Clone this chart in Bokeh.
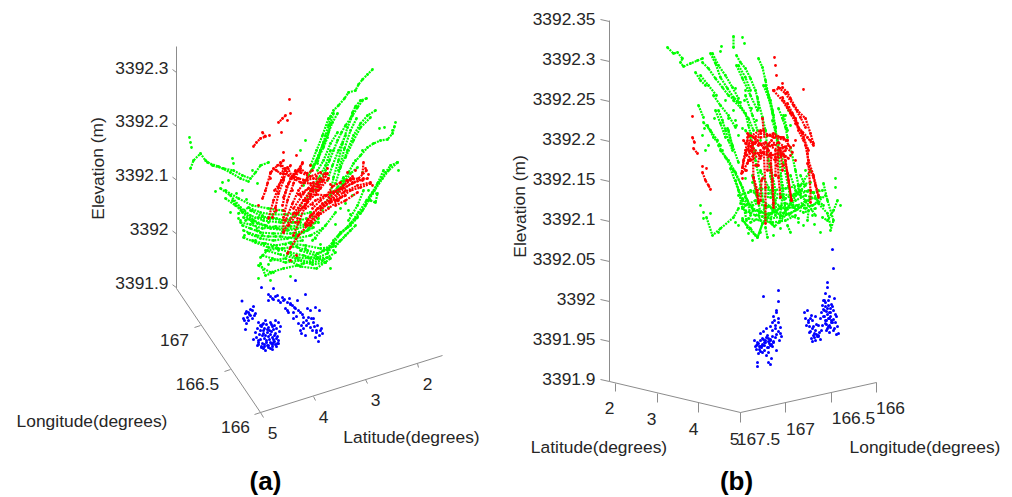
from bokeh.plotting import figure
from bokeh.models import Range1d
from bokeh.core.properties import value
from bokeh.embed import file_html
from bokeh.resources import INLINE

# Traces of the projected 3-D views (horizontal, vertical position on the view)
a_green = [
 [(372,69),(367,74),(362,79),(358,84),(355,90),(348,92),(344,98),(338,105),(333,110),(330,116),(328,125),(325,135),(322,145),(318,155),(313,165),(308,175),(303,185)],
 [(337,113),(332,122),(328,132),(323,142),(320,150),(316,160),(311,170)],
 [(333,113),(330,123),(327,137),(323,147),(318,157),(313,167),(308,175)],
 [(337,132),(330,143),(323,160),(317,170)],
 [(325,140),(320,150),(317,163)],
 [(362,100),(357,107),(352,115),(347,127),(342,143),(338,160),(333,177),(330,193)],
 [(375,110),(367,115),(360,123),(353,135),(347,150),(340,167),(335,183)],
 [(370,117),(360,127),(353,140),(345,157)],
 [(357,167),(350,173),(343,183),(337,192)],
 [(366,98),(360,100),(355,106),(352,112),(350,118),(345,125),(341,132),(337,140),(333,150),(329,160),(325,170),(320,180),(315,190)],
 [(394,126),(392,133),(387,139),(380,140),(373,143),(367,147),(360,155),(353,163),(348,172),(343,180),(337,193)],
 [(397,162),(390,165),(385,172),(378,182),(372,192),(366,200),(358,212),(350,223),(340,233),(333,243),(327,253),(317,257)],
 [(397,162),(388,170),(382,178),(374,190),(368,200),(362,210),(355,218),(347,227),(338,235)],
 [(383,170),(377,183),(370,195),(365,205),(360,213)],
 [(370,200),(375,202),(377,193),(372,193)],
 [(357,217),(350,225),(340,232),(333,240),(327,250)],
 [(332,243),(323,250),(317,253),(307,250),(297,247)],
 [(307,257),(317,257),(325,262)],
 [(287,253),(297,257),(310,258)],
 [(190,168),(193,160),(200,153),(205,160),(212,165),(223,168),(233,170),(242,175),(250,178),(255,172),(260,165),(268,162)],
 [(207,162),(218,166),(230,172),(240,178),(248,181)],
 [(220,188),(230,195),(240,207),(250,215),(263,220),(280,222),(300,222)],
 [(225,198),(235,205),(245,213),(257,223),(270,228),(287,230),(310,225)],
 [(242,225),(250,228),(260,232),(273,233),(290,233),(307,230),(318,218)],
 [(243,217),(253,220),(265,225),(277,228),(297,228)],
 [(248,233),(260,238),(273,240),(287,238),(303,232),(313,227)],
 [(240,222),(250,224),(262,228),(275,226),(290,226),(305,224),(318,222)],
 [(245,220),(258,217),(270,218),(285,220),(295,215),(310,212)],
 [(243,230),(256,235),(268,236),(280,236),(295,238),(310,235),(322,228)],
 [(238,213),(248,207),(260,212),(272,214),(285,214),(298,212)],
 [(225,190),(238,198),(252,205),(268,208),(282,210)],
 [(252,240),(263,243),(276,245),(290,242),(302,240)],
 [(260,257),(267,250),(277,248),(290,252),(303,255),(317,258),(327,257)],
 [(265,250),(280,254),(295,258),(310,262),(322,260),(335,252)],
 [(262,255),(272,258),(285,262),(298,260),(312,264),(325,262)],
 [(258,265),(270,272),(283,268),(297,265),(303,263),(317,258)],
 [(260,263),(265,275),(273,272)],
 [(343,177),(337,187),(330,195),(325,202)],
 [(330,150),(325,165),(318,178),(310,190),(305,200)],
 [(312,240),(325,225),(335,212)],
 [(290,243),(305,245),(320,248),(335,246),(345,235),(355,225)],
 [(328,118),(322,135),(316,150),(310,165)],
 [(345,135),(338,150),(332,165),(327,180)],
 [(356,118),(350,130),(344,148),(338,170)],
 [(232,200),(242,212),(252,222),(262,235)],
 [(250,210),(262,216),(276,218),(292,222),(306,218)],
 [(243,237),(255,242),(268,247),(282,248),(296,246)],
 [(300,250),(315,255),(328,248),(340,240),(350,230)],
 [(270,260),(285,258),(300,266),(316,268),(330,258)],
 [(363,190),(357,205),(348,220)],
]
a_green_dots_x = [189,190,191,232,233,252,257,242,228,222,215,300,310,355,362,379,384,392,395,398,300,305,352,345,348,265,272,285,258,270,290,325,330,362,368,230,240,255,275,295,315,333,236,246,238,252,262,275,290,300,312,322,244,256,268,282,296,308,328,340,350,268,278,292,305,320,335]
a_green_dots_y = [137,142,147,158,163,170,183,190,180,182,191,205,212,160,150,128,127,130,122,170,150,140,195,203,210,243,246,244,278,280,276,262,268,172,190,212,220,240,236,236,238,250,193,199,218,210,215,212,218,219,216,210,235,230,222,231,234,228,207,208,214,264,250,246,248,244,224]

a_red = [
 [(283,160),(277,165),(270,172),(267,183),(265,190),(262,198)],
 [(317,183),(303,200),(293,213),(283,232)],
 [(283,173),(278,187),(273,200),(268,218)],
 [(302,163),(295,173),(288,183),(283,197)],
 [(370,182),(357,185),(343,192),(330,200),(317,213),(305,225)],
 [(367,178),(352,182),(337,193),(323,205)],
 [(318,213),(307,225),(298,235),(290,247),(287,253)],
 [(327,173),(317,190),(307,202),(297,213),(288,225)],
 [(313,182),(303,193),(293,208)],
 [(287,167),(292,177),(300,182),(310,183),(320,188)],
 [(280,165),(288,175),(298,178),(307,180)],
 [(262,132),(265,136),(260,138),(256,142),(253,146)],
 [(285,115),(282,118),(278,122)],
 [(363,162),(362,173)],
 [(350,178),(340,188),(330,192),(320,200),(312,208)],
 [(280,162),(285,170),(283,180),(278,193),(275,207),(272,217)],
 [(295,170),(290,178),(285,192),(282,205)],
 [(302,162),(298,170),(293,183),(287,200),(283,217),(283,232)],
 [(307,177),(298,190),(292,203),(285,220)],
 [(325,173),(318,185),(310,195),(302,207),(295,213)],
 [(320,178),(312,187),(303,200),(298,208)],
 [(353,178),(343,185),(333,193),(325,202),(317,208),(310,215),(305,223)],
 [(370,183),(360,187),(350,190),(340,197),(330,202),(320,208)],
 [(363,178),(352,183),(342,188),(333,192)],
 [(307,220),(313,213),(322,203)],
 [(285,168),(280,173),(273,168),(270,173)],
 [(303,180),(313,178),(323,180),(317,182)],
 [(293,175),(300,168),(306,173),(312,170)],
 [(345,195),(335,200),(325,195),(315,200),(305,208)],
 [(300,172),(310,176),(320,172),(328,178),(318,190),(308,188),(298,194)],
 [(340,182),(332,186),(326,195),(316,194),(306,200)],
 [(290,165),(283,178),(274,190)],
 [(312,190),(305,205),(298,222),(293,235)],
 [(338,200),(328,208),(318,215),(310,225)],
 [(357,192),(345,200),(335,205)],
 [(366,170),(358,178),(346,180)],
]
a_red_dots_x = [289,290,287,281,269,283,296,258,347,362,355,365,372,292,276,311,320,335,345,300,310,327,304,295,270,276,286,300,316,330,352,368,283,297,312,290,296]
a_red_dots_y = [99,113,120,132,135,152,155,205,172,180,170,168,185,190,210,222,213,200,190,170,165,168,200,222,178,170,186,195,176,184,176,174,210,218,204,260,255]

a_blue_x = [241.5,245,248,252,253,250,247,243,248,252,255,246,245,265,258,262,270,275,278,257,260,264,268,272,276,280,255,259,263,267,271,275,279,256,260,264,268,272,276,258,262,266,270,274,278,253,261,264,268,272,276,257,273,277,268,275,282,287,292,295,300,303,308,313,317,320,268,272,280,285,288,293,298,303,308,312,315,318,293,297,305,307,310,315,319,300,301,305,310,316,321,322,303,290,261,273,295,
 261,263,267,269,273,262,265,270,274,277,258,266,269,273,278,260,263,266,271,274,258,261,268,272,275,263,270,265,272,271,264,267,250,246,249,254,244,278,284,290,294,298,302,306,311,314,316,287,296,301,306,313,319,277,283,289,270,273]
a_blue_y = [300.5,313,312,310,306,315,317,318,320,318,313,323,329,320,322,324,322,320,322,328,330,328,327,326,328,326,332,334,333,332,331,333,331,337,339,338,336,337,338,344,343,342,342,341,343,339,347,346,347,346,346,345,342,343,294,296,297,302,305,308,312,317,317,322,325,330,300,298,302,308,312,318,323,328,323,330,337,341,312,300,294,308,310,307,310,330,333,335,327,332,328,333,322,303,287,288,280,
 326,330,329,330,329,335,335,334,335,336,340,340,339,339,340,325,323,324,324,325,342,346,345,344,344,348,348,350,349,343,344,345,309,311,314,315,320,300,299,304,307,310,314,320,318,326,330,310,316,325,325,318,335,295,300,298,296,299]

b_green = [
 [(667,47),(673,53),(677,52),(682,58),(680,62),(683,66),(690,63),(697,60),(702,58)],
 [(695,72),(700,80),(705,85)],
 [(702,62),(708,68),(715,78),(722,87),(728,95),(738,102),(745,113),(748,125),(750,133)],
 [(712,53),(718,65),(725,75),(732,87),(738,98)],
 [(710,53),(715,63),(720,77),(727,88),(733,97),(740,102)],
 [(736,65),(742,78),(750,95),(757,110)],
 [(738,65),(745,77),(750,90)],
 [(736,55),(740,62),(745,68),(750,78),(755,90),(758,102),(762,117),(765,130)],
 [(758,58),(762,67),(765,80),(768,95),(772,110),(775,127)],
 [(763,85),(768,97),(772,113),(775,128)],
 [(765,85),(770,100),(773,115)],
 [(778,108),(782,118),(785,127),(787,137)],
 [(757,97),(758,108)],
 [(733,36),(733,47)],
 [(698,105),(703,117)],
 [(703,122),(710,130),(717,140)],
 [(707,125),(713,137),(720,145)],
 [(715,110),(720,123),(725,137)],
 [(718,110),(722,120),(725,130),(728,140),(732,150)],
 [(728,130),(732,147)],
 [(733,100),(740,107),(748,118),(753,130)],
 [(745,130),(750,137)],
 [(718,145),(725,157),(733,170),(740,183),(745,197),(753,210)],
 [(720,150),(728,160),(735,172),(742,187),(747,200),(750,215)],
 [(727,128),(732,145),(738,162)],
 [(772,120),(777,140),(783,163),(788,187),(790,200)],
 [(760,170),(768,187),(775,200)],
 [(800,175),(805,185),(797,193),(790,203),(783,213)],
 [(813,192),(818,203),(827,213),(830,225)],
 [(808,210),(807,220)],
 [(706,217),(712,235),(720,228),(733,217),(738,208)],
 [(757,237),(762,223),(770,213),(780,207)],
 [(742,218),(747,227),(755,235)],
 [(765,227),(767,237)],
 [(787,225),(790,232)],
 [(742,220),(750,228),(757,237),(762,223),(770,213)],
 [(745,205),(755,200),(765,207),(775,203),(785,208),(795,200),(805,195),(815,198),(823,205)],
 [(742,198),(752,208),(764,213),(776,212),(790,213),(802,205),(812,205),(825,195)],
 [(750,190),(758,195),(770,197),(785,198),(800,190),(812,192),(822,190)],
 [(758,215),(770,218),(782,216),(795,210),(808,200)],
 [(740,203),(752,205),(762,200),(772,208),(785,203),(797,205),(810,198),(820,197)],
 [(745,212),(757,210),(768,214),(780,208),(793,207),(803,212),(815,208)],
 [(755,193),(768,193),(780,194),(795,195),(808,190)],
 [(748,218),(760,220),(772,222),(785,220),(795,215)],
 [(823,183),(827,200),(833,220),(830,230)],
 [(837,200),(833,210),(827,220),(822,217)],
 [(750,133),(755,160),(760,185),(765,215)],
 [(775,127),(778,155),(782,185),(785,210)],
 [(765,130),(768,160),(772,190),(775,215)],
 [(790,147),(795,170),(800,195)],
 [(810,170),(800,185),(790,200)],
 [(738,195),(748,192),(760,188),(772,190),(785,188),(798,185),(810,182)],
 [(742,208),(755,215),(768,206),(780,215),(792,205),(805,208),(818,202)],
 [(750,222),(762,216),(774,226),(786,214),(798,218)],
 [(790,175),(795,190),(805,200),(815,215)],
 [(752,175),(756,195),(760,212)],
 [(780,175),(782,195),(779,222)],
 [(770,165),(775,190),(770,222)],
 [(735,180),(742,200),(746,220)],
 [(730,168),(738,190),(742,208)],
 [(700,75),(708,85),(716,95)],
 [(713,95),(720,105),(728,115),(735,127)],
 [(745,95),(752,115),(757,130)],
 [(783,115),(787,130)],
]
b_green_dots_x = [721,720,742,744,704,702,708,705,703,710,738,735,748,744,751,756,785,790,788,835,835,840,820,814,725,745,760,773,780,803,760,733,736,752,718,700,703,735,742,755,728,714,722,738,760,770,745,752,772,798,812,805,818,735]
b_green_dots_y = [46,51,37,43,128,135,145,150,218,213,225,222,233,100,108,120,115,125,110,178,187,205,232,224,100,90,140,235,228,225,232,110,125,240,232,205,212,120,128,150,118,118,150,135,172,176,178,182,224,222,215,170,190,88]

b_red = [
 [(748,135),(760,137),(770,135),(783,137),(790,147)],
 [(747,133),(753,137),(760,133),(767,135),(773,133),(780,137),(787,140)],
 [(745,143),(752,142),(758,145),(765,142),(772,145),(778,142),(785,147),(792,152)],
 [(748,150),(755,153),(763,152),(770,155),(780,153)],
 [(747,137),(760,130),(773,137),(787,140)],
 [(762,118),(763,130)],
 [(747,140),(743,160),(741,173)],
 [(742,167),(745,153),(750,140)],
 [(747,163),(750,150),(755,138)],
 [(752,143),(753,177),(758,202)],
 [(753,177),(757,190),(758,203)],
 [(763,147),(765,187),(765,223)],
 [(770,153),(772,187),(773,207)],
 [(770,163),(772,180),(773,203)],
 [(777,153),(778,177),(780,197)],
 [(785,160),(788,180),(791,200)],
 [(782,147),(787,173),(791,200)],
 [(773,90),(782,87),(787,92),(790,98),(797,110),(805,118),(810,133),(813,143)],
 [(773,90),(782,100),(790,113),(798,127),(807,137),(813,145)],
 [(782,97),(787,107),(795,118),(798,130),(803,140)],
 [(778,87),(785,93),(793,105),(800,117),(805,127)],
 [(787,103),(792,113),(797,123)],
 [(795,123),(802,133),(807,148)],
 [(802,132),(805,145),(808,160),(813,175),(818,195)],
 [(807,163),(813,177),(818,197)],
 [(807,153),(810,190),(810,202)],
 [(702,172),(705,180),(708,185),(710,189)],
 [(692,137),(694,142)],
 [(693,148),(697,153)],
 [(745,150),(755,142),(768,145),(778,150),(788,158)],
 [(750,160),(762,152),(775,160),(785,150)],
 [(743,140),(750,146),(757,140),(764,148),(771,140),(779,148),(788,145)],
 [(746,155),(753,148),(760,156),(768,150),(775,157),(783,155)],
 [(742,172),(748,160),(753,155)],
 [(757,165),(760,150)],
 [(767,170),(767,150)],
 [(775,175),(775,150)],
 [(782,170),(780,150)],
 [(760,200),(761,180)],
]
b_red_dots_x = [774,775,776,782,803,692,702,706,745,755,760,770,775,783,790,795,810,808,815,795,765,749,758,767,776,785,793,742,746,762]
b_red_dots_y = [57,65,75,83,89,116,166,168,170,165,158,170,175,165,155,160,140,150,185,140,205,160,165,148,165,156,145,178,170,178]

b_blue_x = [832,833,827,827,825,823,829,822,825,828,831,834,821,824,827,830,833,836,820,823,826,829,832,835,822,825,828,831,834,837,826,829,833,836,838,804,807,810,808,812,815,809,812,815,818,813,816,819,821,811,814,817,809,815,818,812,762,758,760,764,767,770,756,759,762,765,768,771,755,760,764,768,758,762,772,775,778,770,773,776,779,768,772,776,774,778,778,763,778,776,773,770,776,772,757,757,770,771,768,766,780,
 825,828,830,823,826,829,832,824,827,830,833,825,828,831,826,829,830,827,824,835,805,808,811,813,816,806,810,814,818,820,757,760,763,766,769,759,762,765,768,754,757,761,764,767,772,775,770,773,760,763,766,756,775,778,780,781]
b_blue_y = [249,268,282,287,293,300,296,305,302,300,304,298,312,310,308,312,310,316,318,316,320,318,322,314,325,323,326,322,328,326,330,332,330,334,333,312,310,318,322,320,316,326,328,330,325,335,334,332,330,338,337,336,332,340,335,341,338,343,346,342,335,340,345,349,345,340,347,344,346,351,350,352,353,352,330,325,322,345,342,350,340,338,336,334,320,318,290,296,301,310,316,326,312,322,362,366,364,358,362,355,333,
 306,305,308,309,311,312,306,316,314,316,319,320,318,320,324,325,327,328,300,322,318,320,315,326,324,325,331,333,336,339,342,340,339,337,343,346,344,342,341,340,344,347,345,347,346,337,339,341,333,331,328,349,328,331,327,336]

a_elev_ticks = ["3392.3","3392.2","3392.1","3392","3391.9"]
b_elev_ticks = ["3392.35","3392.3","3392.25","3392.2","3392.15","3392.1","3392.05","3392","3391.95","3391.9"]
lat_ticks = ["5","4","3","2"]
a_lon_ticks = ["167","166.5","166"]
b_lon_ticks = ["167.5","167","166.5","166"]

GREEN, RED, BLUE = "#00ff00", "#ff0000", "#0000ff"
AX = "#8c8c8c"
FONT = value("Liberation Sans")
TC = "#262626"

p = figure(width=1012, height=497, x_range=Range1d(0, 1012), y_range=Range1d(497, 0),
           x_axis_type=None, y_axis_type=None, toolbar_location=None,
           output_backend="svg", min_border=0, outline_line_color=None)
p.grid.visible = False

def strokes(lst, color):
    xs = [[q[0] for q in s] for s in lst]
    ys = [[q[1] for q in s] for s in lst]
    p.multi_line(xs, ys, line_color=color, line_width=2.2, line_dash="2 1")
    p.scatter(sum(xs, []), sum(ys, []), size=2.8, color=color, line_width=0)

def dots(x, y, color, size=2.8):
    p.scatter(x, y, size=size, color=color, line_width=0)

def label(x, y, t, align="center", angle=0, size="17.4px", style="normal", color=TC):
    p.text([x], [y], text=[t], text_font=FONT, text_font_size=size, text_align=align,
           text_baseline="middle", angle=angle, text_color=color, text_font_style=style)

def seg(x0, y0, x1, y1):
    p.segment([x0], [y0], [x1], [y1], line_color=AX, line_width=1)

strokes(a_green, GREEN); dots(a_green_dots_x, a_green_dots_y, GREEN)
strokes(a_red, RED); dots(a_red_dots_x, a_red_dots_y, RED)
dots(a_blue_x, a_blue_y, BLUE, 3)
strokes(b_green, GREEN); dots(b_green_dots_x, b_green_dots_y, GREEN)
strokes(b_red, RED); dots(b_red_dots_x, b_red_dots_y, RED)
dots(b_blue_x, b_blue_y, BLUE, 3)

# panel a axes
seg(176, 46, 176, 288); seg(176, 288, 260, 412); seg(260, 412, 442, 355)
for i, t in enumerate(a_elev_ticks):
    y = 72 + i * 53.8
    seg(172, y - 3, 176, y)
    label(168, y - 5, t, "right")
for (x0, y0, x1, y1) in [(200, 325, 194, 327), (230, 369, 224, 371), (260, 412, 254, 414)]:
    seg(x0, y0, x1, y1)
for (x0, y0, x1, y1) in [(260, 412, 263, 417), (313, 396, 315, 400), (365, 379, 367, 383), (417, 363, 418, 367)]:
    seg(x0, y0, x1, y1)
for (x, y), t in zip([(272, 432), (323, 416), (375, 399), (427, 383)], lat_ticks):
    label(x, y, t)
for (x, y), t in zip([(174, 339), (197, 383), (235, 426)], a_lon_ticks):
    label(x, y, t)
label(97, 168, "Elevation (m)", angle=1.5708)
label(91.5, 420, "Longitude(degrees)")
label(411, 436, "Latitude(degrees)")
label(265, 480, "(a)", size="26px", style="bold", color="#000000")

# panel b axes
seg(609, 20, 609, 381); seg(609, 381, 740, 412); seg(740, 412, 876, 382)
for i, t in enumerate(b_elev_ticks):
    y = 21 + i * 40
    seg(600, y - 2, 609, y)
    label(595, y - 3, t, "right")
for (x0, y0, x1, y1) in [(615, 383, 615, 391), (657, 393, 657, 402), (698, 402, 698, 412), (740, 412, 740, 422),
                         (785, 402, 785, 412), (831, 392, 831, 402), (876, 382, 876, 392)]:
    seg(x0, y0, x1, y1)
for (x, y), t in zip([(734, 438), (693, 428), (651, 418), (609, 407)], lat_ticks):
    label(x, y, t)
for (x, y), t in zip([(758, 438), (800, 428), (853, 417), (890, 407)], b_lon_ticks):
    label(x, y, t)
label(519, 206, "Elevation (m)", angle=1.5708)
label(598.5, 446, "Latitude(degrees)")
label(924.5, 446, "Longitude(degrees)")
label(736, 480, "(b)", size="26px", style="bold", color="#000000")

open("out.html", "w").write(file_html(p, INLINE))
